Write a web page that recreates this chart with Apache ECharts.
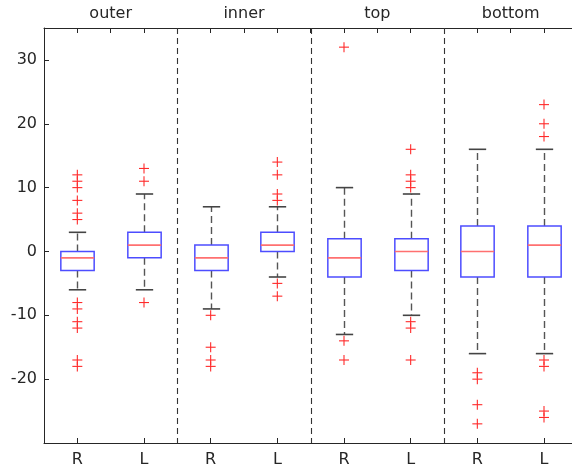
<!DOCTYPE html>
<html>
<head>
<meta charset="utf-8">
<script src="https://cdn.jsdelivr.net/npm/echarts@6/dist/echarts.min.js"></script>
<style>
html,body{margin:0;padding:0;background:#fff;}
#chart{width:572px;height:468px;}
</style>
</head>
<body>
<div id="chart"></div>
<script>
// ---- data ----
const groups = ['outer', 'inner', 'top', 'bottom'];
const sides = ['R', 'L'];
// per box, order: outer R, outer L, inner R, inner L, top R, top L, bottom R, bottom L
const lowerWhisker = [-6, -6, -9, -4, -13, -10, -16, -16];
const q1 =           [-3, -1, -3,  0,  -4,  -3,  -4,  -4];
const median =       [-1,  1, -1,  1,  -1,   0,   0,   1];
const q3 =           [ 0,  3,  1,  3,   2,   2,   4,   4];
const upperWhisker = [ 3,  9,  7,  7,  10,   9,  16,  16];
const outliers = [
  [12, 11, 10, 8, 6, 5, -8, -9, -11, -12, -17, -18],
  [13, 11, -8],
  [-10, -15, -17, -18],
  [14, 12, 9, 8, -5, -7],
  [32, -14, -17],
  [16, 12, 11, 10, -11, -12, -17],
  [-19, -20, -24, -27],
  [23, 20, 18, -17, -18, -25, -26]
];
const yTicks = [-20, -10, 0, 10, 20, 30];

// ---- layout helpers ----
const pos = q1.map((_, i) => 1 + 2 * i);
const sepPos = groups.slice(1).map((_, g) => 4 * (g + 1));
const groupCenter = groups.map((_, g) => 4 * g + 2);
const allTicks = [];
for (let i = 1; i < 4 * groups.length; i++) allTicks.push(i);

const boxData = pos.map((x, i) => [x, lowerWhisker[i], q1[i], median[i], q3[i], upperWhisker[i]]);
const outData = [];
outliers.forEach((arr, i) => arr.forEach(v => outData.push([pos[i], v])));

const YMIN = -30, YMAX = 35, XMIN = 0, XMAX = 15.84;
const textColor = '#262626';
const font = 'DejaVu Sans';
const fs = 16;

const chart = echarts.init(document.getElementById('chart'), null, {renderer: 'canvas'});

function renderBox(params, api) {
  const x = api.value(0);
  const lo = api.coord([x, api.value(1)]);
  const b1 = api.coord([x, api.value(2)]);
  const md = api.coord([x, api.value(3)]);
  const b3 = api.coord([x, api.value(4)]);
  const hi = api.coord([x, api.value(5)]);
  const unit = api.size([1, 0])[0];
  const bw = unit * 1.0;
  const cw = unit * 0.52;
  const cx = Math.round(b1[0]) + 0.5;
  const left = cx - bw / 2, right = cx + bw / 2;
  const whiskerStyle = {stroke: '#555555', lineWidth: 1.4, lineDash: [7, 4]};
  const capStyle = {stroke: '#444444', lineWidth: 1.6};
  return {
    type: 'group',
    children: [
      {type: 'line', shape: {x1: cx, y1: b3[1], x2: cx, y2: hi[1]}, style: whiskerStyle},
      {type: 'line', shape: {x1: cx, y1: b1[1], x2: cx, y2: lo[1]}, style: whiskerStyle},
      {type: 'line', shape: {x1: cx - cw / 2, y1: hi[1], x2: cx + cw / 2, y2: hi[1]}, style: capStyle},
      {type: 'line', shape: {x1: cx - cw / 2, y1: lo[1], x2: cx + cw / 2, y2: lo[1]}, style: capStyle},
      {type: 'rect', shape: {x: left, y: b3[1], width: bw, height: b1[1] - b3[1]},
        style: {fill: 'rgba(255,255,255,0)', stroke: '#4d4dff', lineWidth: 1.5}},
      {type: 'line', shape: {x1: left, y1: md[1], x2: right, y2: md[1]},
        style: {stroke: '#ff7070', lineWidth: 1.6}}
    ]
  };
}

function renderPlus(params, api) {
  const p = api.coord([api.value(0), api.value(1)]);
  const s = 5;
  const st = {stroke: '#ff2a2a', lineWidth: 1.1};
  return {
    type: 'group',
    children: [
      {type: 'line', shape: {x1: p[0] - s, y1: p[1], x2: p[0] + s, y2: p[1]}, style: st},
      {type: 'line', shape: {x1: p[0], y1: p[1] - s, x2: p[0], y2: p[1] + s}, style: st}
    ]
  };
}

function renderSep(params, api) {
  const x = api.value(0);
  const top = api.coord([x, YMAX]);
  const bot = api.coord([x, YMIN]);
  const px = Math.round(top[0]) + 0.5;
  return {type: 'line', shape: {x1: px, y1: top[1], x2: px, y2: bot[1]},
    style: {stroke: '#333333', lineWidth: 1.1, lineDash: [6, 4]}};
}

const option = {
  animation: false,
  backgroundColor: '#ffffff',
  grid: {left: 44, top: 28, right: 0, bottom: 25, containLabel: false, outerBoundsMode: 'none'},
  xAxis: [
    {
      type: 'value', position: 'bottom', min: XMIN, max: XMAX,
      axisLine: {show: true, onZero: false, lineStyle: {color: textColor, width: 1}},
      axisTick: {show: true, inside: true, length: 5, customValues: pos, lineStyle: {color: textColor}},
      axisLabel: {show: true, customValues: pos, margin: 9, color: textColor, fontSize: fs, fontFamily: font,
        formatter: v => sides[Math.round((v - 1) / 2) % 2]},
      splitLine: {show: false}
    },
    {
      type: 'value', position: 'top', min: XMIN, max: XMAX,
      axisLine: {show: true, onZero: false, lineStyle: {color: textColor, width: 1}},
      axisTick: {show: true, inside: true, length: 5, customValues: allTicks, lineStyle: {color: textColor}},
      axisLabel: {show: true, customValues: groupCenter, margin: 6, color: textColor, fontSize: fs, fontFamily: font,
        formatter: v => groups[Math.round((v - 2) / 4)]},
      splitLine: {show: false}
    }
  ],
  yAxis: {
    type: 'value', min: YMIN, max: YMAX,
    axisLine: {show: true, onZero: false, lineStyle: {color: textColor, width: 1}},
    axisTick: {show: true, inside: true, length: 5, customValues: yTicks, lineStyle: {color: textColor}},
    axisLabel: {show: true, customValues: yTicks, margin: 7, color: textColor, fontSize: fs, fontFamily: font},
    splitLine: {show: false}
  },
  series: [
    {type: 'custom', xAxisIndex: 0, renderItem: renderSep, data: sepPos.map(x => [x]), silent: true, clip: false},
    {type: 'custom', xAxisIndex: 0, renderItem: renderBox, data: boxData, silent: true,
      encode: {x: 0, y: [1, 2, 3, 4, 5]}},
    {type: 'custom', xAxisIndex: 0, renderItem: renderPlus, data: outData, silent: true,
      encode: {x: 0, y: 1}}
  ]
};
chart.setOption(option);
</script>
</body>
</html>
